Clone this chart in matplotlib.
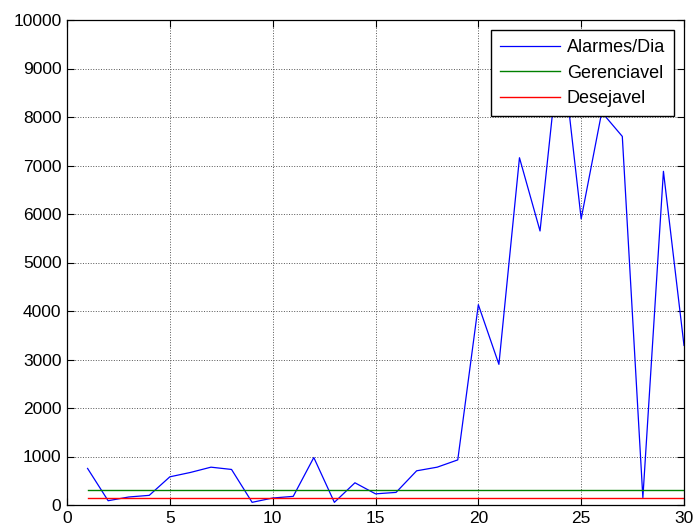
import matplotlib.pyplot as plt

# alarmes por dia
dias = list(range(1, 31))
alarmes = [754, 88, 165, 199, 581, 671, 780, 733, 55, 144,
           178, 979, 55, 458, 230, 260, 705, 780, 930, 4130,
           2900, 7160, 5650, 9650, 5900, 8100, 7600, 150, 6880, 3290]
gerenciavel = [300] * len(dias)
desejavel = [150] * len(dias)

plt.rcParams["font.family"] = ["Liberation Sans", "DejaVu Sans"]

fig = plt.figure(figsize=(6.93, 5.30), dpi=100)
ax = fig.add_axes([67 / 693, 25 / 530, 617 / 693, 485 / 530])

ax.plot(dias, alarmes, color="#0000ff", lw=0.9, label="Alarmes/Dia")
ax.plot(dias, gerenciavel, color="#008000", lw=1.0, label="Gerenciavel")
ax.plot(dias, desejavel, color="#ff0000", lw=1.0, label="Desejavel")

ax.set_xlim(0, 30)
ax.set_ylim(0, 10000)
ax.set_xticks(range(0, 31, 5))
ax.set_yticks(range(0, 10001, 1000))

ax.grid(True, color="#555555", linestyle=":", linewidth=0.7)
ax.tick_params(direction="in", top=True, right=True, length=5, width=0.8,
               labelsize=12.5, colors="black", pad=4)
for s in ax.spines.values():
    s.set_linewidth(0.9)
    s.set_color("black")

leg = ax.legend(loc="upper right", bbox_to_anchor=(0.9838, 0.9794),
                borderaxespad=0, fancybox=False, framealpha=1,
                edgecolor="black", fontsize=13, handlelength=3.3,
                handletextpad=0.4, borderpad=0.5, labelspacing=0.47)
leg.get_frame().set_linewidth(1.0)

fig.savefig("out.png", dpi=100)
